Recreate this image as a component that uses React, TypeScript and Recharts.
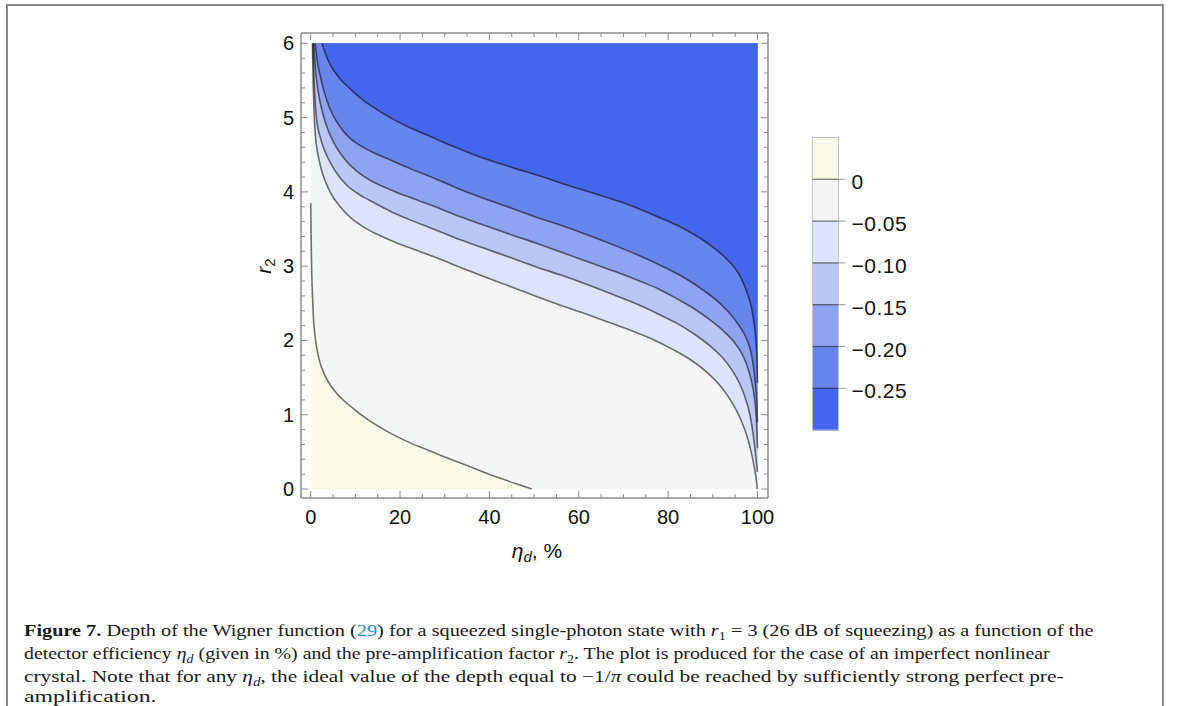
import React, { useLayoutEffect, useRef, useState } from 'react';
import { ComposedChart, XAxis, YAxis, Area, Line, ReferenceArea } from 'recharts';

// ---------- data ----------
const etaTicks = [0, 5, 10, 15, 20, 25, 30, 35, 40, 45, 50, 55, 60, 65, 70, 75, 80, 85, 90, 95, 100];
const etaMajor = [0, 20, 40, 60, 80, 100];
const r2Ticks = [0, 0.2, 0.4, 0.6, 0.8, 1, 1.2, 1.4, 1.6, 1.8, 2, 2.2, 2.4, 2.6, 2.8, 3, 3.2, 3.4, 3.6, 3.8, 4, 4.2, 4.4, 4.6, 4.8, 5, 5.2, 5.4, 5.6, 5.8, 6];
const r2Major = [0, 1, 2, 3, 4, 5, 6];
const R2_MAX = 6;

const levelLabels = ['0', '\u22120.05', '\u22120.10', '\u22120.15', '\u22120.20', '\u22120.25'];
const bandColors = ['#FBFBEA', '#F3F6F4', '#DCE3FB', '#B9C6F6', '#8FA4F1', '#6884ED', '#4466EC'];

// contour level 0
const curve0 = [[0, 3.85], [0.08, 3.45], [0.2, 3.0], [0.4, 2.6], [0.6, 2.32], [0.9, 2.1], [1.2, 1.95], [1.6, 1.82], [2.1, 1.7], [2.8, 1.58], [3.5, 1.49], [4.5, 1.39], [5.8, 1.29], [7.5, 1.185], [9.5, 1.085], [11.4, 0.995], [13.3, 0.915], [17, 0.78], [20.7, 0.665], [24.5, 0.565], [28.2, 0.475], [32, 0.385], [35.7, 0.3], [39.5, 0.21], [43.1, 0.13], [46.5, 0.06], [49.5, 0]];
// contour level -0.05
const curve1 = [[0.4, 6], [0.55, 5.5], [0.75, 5.1], [1.0, 4.8], [1.8, 4.45], [2.8, 4.22], [4.5, 3.98], [6.6, 3.8], [9, 3.65], [11.5, 3.54], [14.5, 3.44], [17.8, 3.35], [22, 3.25], [27, 3.14], [32, 3.02], [37.9, 2.88], [45, 2.72], [51, 2.58], [56, 2.47], [61, 2.37], [66, 2.26], [71, 2.15], [76, 2.03], [81, 1.88], [85, 1.74], [88.7, 1.57], [91.5, 1.4], [93.5, 1.24], [95.2, 1.07], [96.5, 0.9], [97.6, 0.72], [98.5, 0.52], [99.2, 0.32], [99.7, 0.14], [99.95, 0]];
// contour level -0.10
const curve2 = [[0.5, 6], [0.7, 5.6], [1.0, 5.2], [1.3, 4.99], [2.2, 4.72], [3.6, 4.49], [5.5, 4.28], [8.1, 4.09], [11, 3.96], [14, 3.86], [17.8, 3.74], [22, 3.63], [27, 3.51], [32, 3.39], [37.9, 3.26], [45, 3.11], [51, 2.98], [56, 2.88], [62, 2.75], [68, 2.61], [73, 2.49], [78, 2.35], [82, 2.23], [86, 2.08], [89.3, 1.93], [92, 1.78], [94.3, 1.6], [96, 1.42], [97.3, 1.22], [98.3, 1.0], [99, 0.75], [99.5, 0.5], [100, 0.23]];
// contour level -0.15
const curve3 = [[0.7, 6], [1.0, 5.7], [1.5, 5.42], [2.1, 5.21], [3.3, 4.93], [5.1, 4.67], [7.5, 4.45], [10.3, 4.28], [13.5, 4.15], [17.8, 4.03], [22, 3.93], [27, 3.82], [32, 3.7], [37.9, 3.57], [45, 3.42], [51, 3.3], [56, 3.19], [62, 3.06], [68, 2.93], [74, 2.79], [78, 2.69], [82, 2.56], [86, 2.42], [89.5, 2.27], [92.5, 2.12], [95, 1.96], [96.8, 1.79], [98, 1.6], [98.9, 1.38], [99.5, 1.13], [99.8, 0.88], [100, 0.55]];
// contour level -0.20
const curve4 = [[1.0, 6], [1.5, 5.75], [2.1, 5.57], [3.0, 5.35], [4.3, 5.12], [6.3, 4.9], [8.8, 4.72], [11.5, 4.61], [14, 4.53], [17.8, 4.43], [22, 4.32], [27, 4.2], [32, 4.07], [37.9, 3.93], [45, 3.78], [51, 3.65], [56, 3.55], [62, 3.42], [68, 3.28], [74, 3.13], [79, 2.99], [84, 2.83], [88, 2.67], [91.6, 2.5], [94, 2.35], [96, 2.19], [97.5, 2.03], [98.5, 1.85], [99.2, 1.6], [99.6, 1.35], [99.9, 1.1], [100, 0.9]];
// contour level -0.25
const curve5 = [[2.5, 6], [3.3, 5.86], [4.3, 5.72], [6.6, 5.52], [8.8, 5.39], [11, 5.27], [14, 5.14], [17.8, 5.0], [22, 4.87], [27, 4.74], [32, 4.61], [37.9, 4.47], [45, 4.33], [51, 4.22], [58, 4.08], [65, 3.95], [71, 3.83], [77.5, 3.67], [82, 3.55], [86, 3.42], [89.5, 3.28], [92.5, 3.13], [95, 2.97], [96.5, 2.82], [97.8, 2.62], [98.7, 2.43], [99.3, 2.2], [99.7, 1.95], [99.9, 1.7], [100, 1.43]];

const toRows = (c: number[][]) => c.map(([e, r]) => ({ eta: e, r, band: [r, R2_MAX] }));
const rows0 = toRows(curve0);
const blueCurves = [curve1, curve2, curve3, curve4, curve5].map(toRows);

// ---------- style ----------
const FRAME = '#8a8a8a';
const SANS = '"Liberation Sans", Arial, Helvetica, sans-serif';
const SERIF = '"Liberation Serif", "Times New Roman", serif';
const LABEL_SIZE = 20;

const isMajorEta = (v: number) => etaMajor.indexOf(v) >= 0;
const isMajorR2 = (v: number) => r2Major.some((m) => Math.abs(m - v) < 1e-6);

const BottomTick = (p: any) => {
  const { x, y, payload } = p;
  const major = isMajorEta(payload.value);
  return (
    <g>
      <line x1={x} y1={y} x2={x} y2={y - (major ? 7 : 4)} stroke={FRAME} strokeWidth={1} />
      {major && (
        <text x={x} y={y + 26} textAnchor="middle" fontSize={LABEL_SIZE} fontFamily={SANS} fill="#111">
          {payload.value}
        </text>
      )}
    </g>
  );
};
const TopTick = (p: any) => {
  const { x, y, payload } = p;
  const major = isMajorEta(payload.value);
  return <line x1={x} y1={y} x2={x} y2={y + (major ? 7 : 4)} stroke={FRAME} strokeWidth={1} />;
};
const LeftTick = (p: any) => {
  const { x, y, payload } = p;
  const major = isMajorR2(payload.value);
  return (
    <g>
      <line x1={x} y1={y} x2={x + (major ? 7 : 4)} y2={y} stroke={FRAME} strokeWidth={1} />
      {major && (
        <text x={x - 7} y={y + 7} textAnchor="end" fontSize={LABEL_SIZE} fontFamily={SANS} fill="#111">
          {Math.round(payload.value)}
        </text>
      )}
    </g>
  );
};
const RightTick = (p: any) => {
  const { x, y, payload } = p;
  const major = isMajorR2(payload.value);
  return <line x1={x} y1={y} x2={x - (major ? 7 : 4)} y2={y} stroke={FRAME} strokeWidth={1} />;
};

function FitLine({ top, width, children }: { top: number; width: number; children: React.ReactNode }) {
  const ref = useRef<HTMLDivElement>(null);
  const [s, setS] = useState(1);
  useLayoutEffect(() => {
    if (ref.current) {
      const w = ref.current.offsetWidth;
      if (w > 0) setS(width / w);
    }
  }, [width]);
  return (
    <div
      ref={ref}
      style={{
        position: 'absolute',
        left: 24,
        top,
        whiteSpace: 'nowrap',
        transformOrigin: '0 0',
        transform: `scaleX(${s})`,
        fontFamily: SERIF,
        fontSize: 17.5,
        lineHeight: '16px',
        color: '#1a1a1a',
      }}
    >
      {children}
    </div>
  );
}

const Sub = ({ children, italic }: { children: React.ReactNode; italic?: boolean }) => (
  <span style={{ fontSize: '0.7em', verticalAlign: '-0.3em', lineHeight: 0, fontStyle: italic ? 'italic' : 'normal' }}>{children}</span>
);

export default function App() {
  const W = 1179;
  const H = 706;
  const plot = { left: 301, top: 33, right: 768, bottom: 498 };
  const AX = 1; // axis band size
  const barX = 812.5;
  const barW = 26;
  const barTop = 137.5;
  const segH = 41.8;

  return (
    <div style={{ position: 'absolute', left: 0, top: 0, width: W, height: H, background: '#fff', overflow: 'hidden' }}>
      {/* outer figure box */}
      <div style={{ position: 'absolute', left: 6, top: 4, width: 1158, height: 2, background: FRAME }} />
      <div style={{ position: 'absolute', left: 6, top: 4, width: 2, height: 710, background: FRAME }} />
      <div style={{ position: 'absolute', left: 1162, top: 4, width: 2, height: 710, background: FRAME }} />

      <div style={{ position: 'absolute', left: 0, top: 0 }}>
        <ComposedChart
          width={W}
          height={H}
          margin={{ top: plot.top - AX, left: plot.left - AX, right: W - plot.right - AX, bottom: H - plot.bottom - AX }}
        >
          <XAxis
            xAxisId={0}
            dataKey="eta"
            type="number"
            domain={[-2.17, 102.35]}
            allowDataOverflow
            ticks={etaTicks}
            interval={0}
            height={AX}
            tickSize={0}
            tickMargin={0}
            tick={<BottomTick />}
            axisLine={{ stroke: FRAME, strokeWidth: 1.5 }}
            tickLine={false}
          />
          <XAxis
            xAxisId="top"
            orientation="top"
            dataKey="eta"
            type="number"
            domain={[-2.17, 102.35]}
            allowDataOverflow
            ticks={etaTicks}
            interval={0}
            height={AX}
            tickSize={0}
            tickMargin={0}
            tick={<TopTick />}
            axisLine={{ stroke: FRAME, strokeWidth: 1.5 }}
            tickLine={false}
          />
          <YAxis
            yAxisId={0}
            type="number"
            domain={[-0.121, 6.139]}
            allowDataOverflow
            ticks={r2Ticks}
            interval={0}
            width={AX}
            tickSize={0}
            tickMargin={0}
            tick={<LeftTick />}
            axisLine={{ stroke: FRAME, strokeWidth: 1.5 }}
            tickLine={false}
          />
          <YAxis
            yAxisId="right"
            orientation="right"
            type="number"
            domain={[-0.121, 6.139]}
            allowDataOverflow
            ticks={r2Ticks}
            interval={0}
            width={AX}
            tickSize={0}
            tickMargin={0}
            tick={<RightTick />}
            axisLine={{ stroke: FRAME, strokeWidth: 1.5 }}
            tickLine={false}
          />

          <ReferenceArea x1={0} x2={100} y1={0} y2={R2_MAX} fill={bandColors[1]} fillOpacity={1} stroke="none" ifOverflow="visible" />

          <Area
            data={rows0}
            dataKey="r"
            type="monotoneX"
            fill={bandColors[0]}
            fillOpacity={1}
            stroke="none"
            isAnimationActive={false}
            dot={false}
            activeDot={false}
          />
          {blueCurves.map((rows, i) => (
            <Area
              key={'a' + i}
              data={rows}
              dataKey="band"
              type="monotoneX"
              fill={bandColors[i + 2]}
              fillOpacity={1}
              stroke="none"
              isAnimationActive={false}
              dot={false}
              activeDot={false}
            />
          ))}
          <Line
            data={rows0}
            dataKey="r"
            type="monotoneX"
            stroke="#000"
            strokeOpacity={0.55}
            strokeWidth={1.6}
            dot={false}
            activeDot={false}
            isAnimationActive={false}
          />
          {blueCurves.map((rows, i) => (
            <Line
              key={'l' + i}
              data={rows}
              dataKey="r"
              type="monotoneX"
              stroke="#000"
              strokeOpacity={0.55}
              strokeWidth={1.6}
              dot={false}
              activeDot={false}
              isAnimationActive={false}
            />
          ))}
        </ComposedChart>
      </div>

      {/* axis titles and colour bar */}
      <svg width={W} height={H} style={{ position: 'absolute', left: 0, top: 0, pointerEvents: 'none' }}>
        <text x={537} y={558} textAnchor="middle" fontSize={21} fontFamily={SANS} fill="#111">
          <tspan fontStyle="italic">η</tspan>
          <tspan fontStyle="italic" fontSize={15} dy={4}>d</tspan>
          <tspan dy={-4}>, %</tspan>
        </text>
        <text
          x={271}
          y={266}
          transform="rotate(-90 271 266)"
          textAnchor="middle"
          fontSize={21}
          fontFamily={SANS}
          fill="#111"
        >
          <tspan fontStyle="italic">r</tspan>
          <tspan fontSize={15} dy={4}>2</tspan>
        </text>

        {bandColors.map((c, i) => (
          <rect key={'b' + i} x={barX} y={barTop + i * segH} width={barW} height={segH + 0.5} fill={c} />
        ))}
        <rect x={barX} y={barTop} width={barW} height={segH * bandColors.length} fill="none" stroke="#c4c4c4" strokeWidth={1} />
        {levelLabels.map((lab, i) => {
          const yy = barTop + (i + 1) * segH;
          return (
            <g key={'t' + i}>
              <line x1={barX} x2={barX + barW} y1={yy} y2={yy} stroke="#000" strokeOpacity={0.5} strokeWidth={1.3} />
              <line x1={barX + barW} x2={barX + barW + 7} y1={yy} y2={yy} stroke="#999" strokeWidth={1} />
              <text x={barX + 39} y={yy + 10} fontSize={21} letterSpacing={0.5} fontFamily={SANS} fill="#111">
                {lab}
              </text>
            </g>
          );
        })}
      </svg>

      {/* caption */}
      <FitLine top={622} width={1069}>
        <b>Figure 7.</b> Depth of the Wigner function (<span style={{ color: '#2b8fcf' }}>29</span>) for a squeezed
        single-photon state with <i>r</i>
        <Sub>1</Sub> = 3 (26 dB of squeezing) as a function of the
      </FitLine>
      <FitLine top={645} width={1026}>
        detector efficiency <i>η</i>
        <Sub italic>d</Sub> (given in %) and the pre-amplification factor <i>r</i>
        <Sub>2</Sub>. The plot is produced for the case of an imperfect nonlinear
      </FitLine>
      <FitLine top={668} width={1039}>
        crystal. Note that for any <i>η</i>
        <Sub italic>d</Sub>, the ideal value of the depth equal to −1/<i>π</i> could be reached by sufficiently strong
        perfect pre-
      </FitLine>
      <FitLine top={688} width={133}>
        amplification.
      </FitLine>
    </div>
  );
}
